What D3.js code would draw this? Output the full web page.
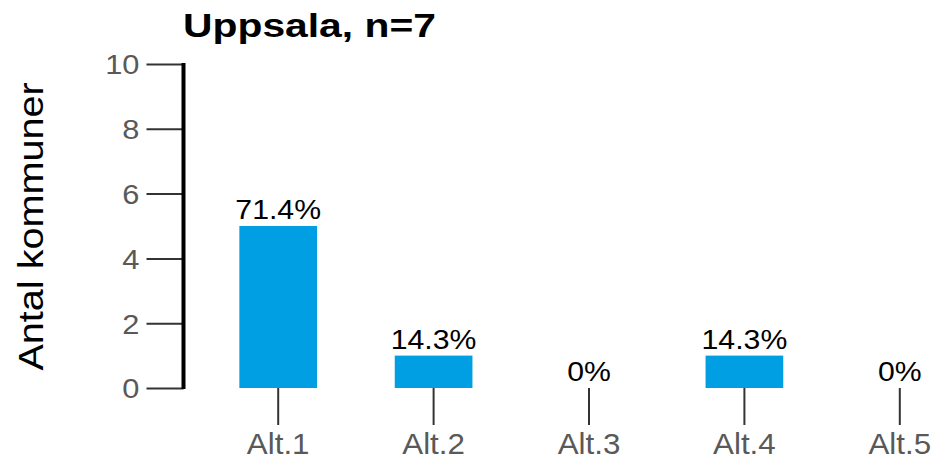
<!DOCTYPE html>
<html><head><meta charset="utf-8">
<script src="https://cdn.jsdelivr.net/npm/d3@7"></script>
<style>body{margin:0;background:#fff}svg{display:block;font-family:"Liberation Sans",Arial,sans-serif}</style>
</head><body>
<script>
const categories = ["Alt.1","Alt.2","Alt.3","Alt.4","Alt.5"];
const counts = [5,1,0,1,0];
const percentLabels = ["71.4%","14.3%","0%","14.3%","0%"];
const yTicks = [0,2,4,6,8,10];
const title = "Uppsala, n=7";
const yTitle = "Antal kommuner";

const W=936,H=459;
const FF="Liberation Sans, Arial, sans-serif";
const svg=d3.select("body").append("svg").attr("width",W).attr("height",H);
const y=d3.scaleLinear().domain([0,10]).range([388,64]);
const x=d3.scaleBand().domain(categories).range([200.5,977.5]).paddingInner(0.5).paddingOuter(0.25);

// y axis
const ya=svg.append("g").attr("transform","translate(183.5,0)")
  .call(d3.axisLeft(y).tickValues(yTicks).tickSize(37).tickPadding(8));
ya.select(".domain").remove();
ya.selectAll(".tick line").attr("stroke","#333").attr("stroke-width",2);
ya.selectAll(".tick text").attr("fill","#595959").attr("font-size",28).attr("font-family",FF)
  .attr("x",0).attr("dy","0.35em").attr("transform","translate(-44,0) scale(1.1,1)");
svg.append("line").attr("x1",183.5).attr("x2",183.5).attr("y1",y(10)-1).attr("y2",y(0)+1).attr("stroke","#000").attr("stroke-width",4);

// x axis
const xa=svg.append("g").attr("transform","translate(0,388)")
  .call(d3.axisBottom(x).tickSize(37).tickPadding(6));
xa.select(".domain").remove();
xa.selectAll(".tick line").attr("stroke","#333").attr("stroke-width",2);
xa.selectAll(".tick text").attr("fill","#595959").attr("font-size",29).attr("font-family",FF)
  .attr("y",0).attr("dy",0).attr("transform","translate(0,66) scale(1.08,1)");

// bars
svg.selectAll("rect.bar").data(categories).join("rect").attr("class","bar")
  .attr("x",d=>x(d)).attr("width",x.bandwidth())
  .attr("y",(d,i)=>y(counts[i])).attr("height",(d,i)=>y(0)-y(counts[i]))
  .attr("fill","#009fe3");

svg.selectAll("text.val").data(categories).join("text").attr("class","val")
  .attr("transform",(d,i)=>`translate(${x(d)+x.bandwidth()/2},${y(counts[i])-7}) scale(1.12,1)`)
  .attr("text-anchor","middle").attr("font-size",27).attr("fill","#000")
  .text((d,i)=>percentLabels[i]);

svg.append("text").attr("transform","translate(309.5,37) scale(1.2,1)").attr("text-anchor","middle")
  .attr("font-size",34).attr("font-weight","bold").attr("fill","#000").text(title);

svg.append("text").attr("transform","translate(43,226.5) rotate(-90) scale(1.1,1)").attr("text-anchor","middle")
  .attr("font-size",36).attr("fill","#000").text(yTitle);
</script>
</body></html>
